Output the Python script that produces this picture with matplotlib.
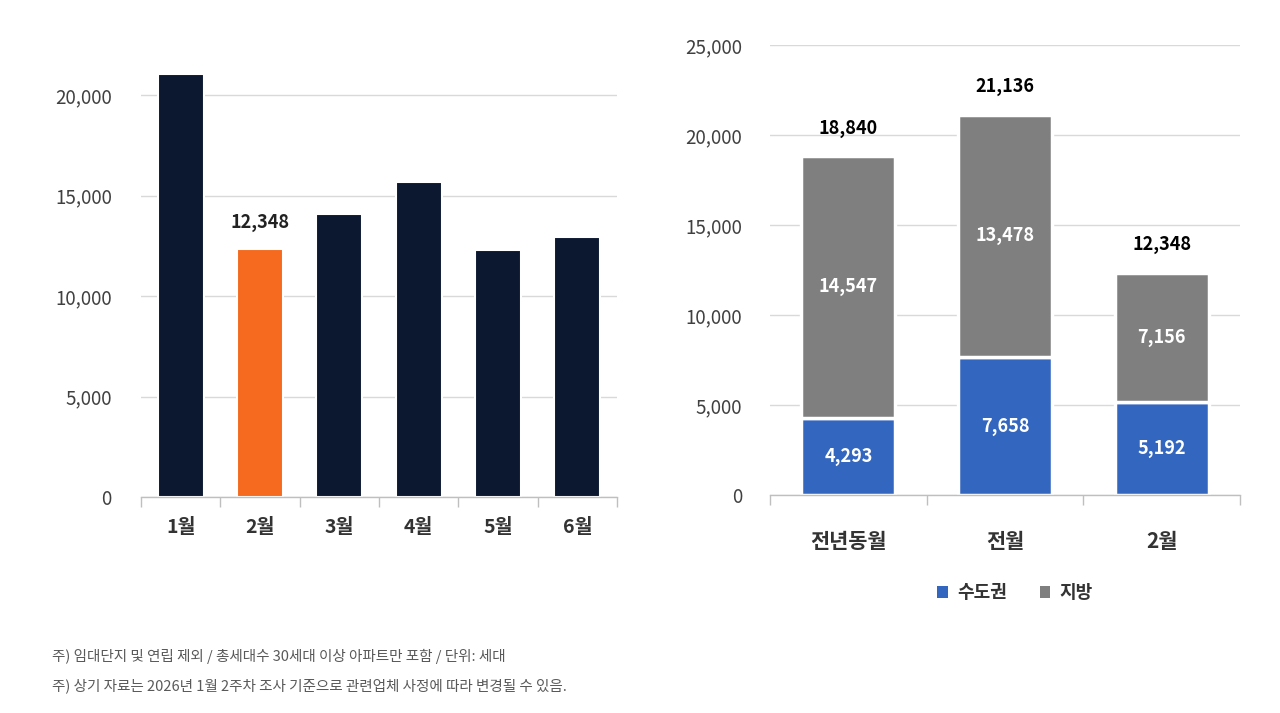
import matplotlib
matplotlib.use("Agg")
import matplotlib.pyplot as plt
from matplotlib.ticker import FuncFormatter, FixedLocator
from matplotlib.patches import Patch

plt.rcParams['font.family'] = ['Noto Sans CJK KR', 'DejaVu Sans']

# ---- data ----
months = ['1월', '2월', '3월', '4월', '5월', '6월']
month_values = [21050, 12348, 14100, 15680, 12300, 12950]
highlight_index = 1

periods = ['전년동월', '전월', '2월']
capital = [4293, 7658, 5192]
regional = [14547, 13478, 7156]
series_names = ['수도권', '지방']

footnotes = [
    '주) 임대단지 및 연립 제외 / 총세대수 30세대 이상 아파트만 포함 / 단위: 세대',
    '주) 상기 자료는 2026년 1월 2주차 조사 기준으로 관련업체 사정에 따라 변경될 수 있음.',
]

NAVY = '#0b1830'
ORANGE = '#f56a1e'
BLUE = '#3366bf'
GRAY = '#7f7f7f'
GRID = '#d9d9d9'
TICKC = '#404040'

W, H = 1280, 713
fig = plt.figure(figsize=(W / 100, H / 100), dpi=100)
fig.patch.set_facecolor('white')

def px_axes(x0, x1, ybot, ytop):
    return fig.add_axes([x0 / W, (H - ybot) / H, (x1 - x0) / W, (ybot - ytop) / H])

fmt = FuncFormatter(lambda v, p: f'{int(v):,}')

def style(ax, n, ypad):
    for s in ['top', 'right', 'left']:
        ax.spines[s].set_visible(False)
    ax.spines['bottom'].set_color('#bfbfbf')
    ax.spines['bottom'].set_linewidth(1.0)
    ax.set_axisbelow(True)
    ax.yaxis.grid(True, color=GRID, linewidth=1.0)
    ax.yaxis.set_major_formatter(fmt)
    ax.tick_params(axis='y', length=0, pad=ypad, labelsize=13.5, labelcolor=TICKC)
    ax.set_xlim(-0.5, n - 0.5)
    ax.xaxis.set_minor_locator(FixedLocator([i - 0.5 for i in range(n + 1)]))
    ax.tick_params(axis='x', which='major', length=0)
    ax.tick_params(axis='x', which='minor', length=7, color='#bfbfbf', width=1)

# ---- left chart ----
ax1 = px_axes(141, 617, 497, 73)
colors = [ORANGE if i == highlight_index else NAVY for i in range(len(months))]
ax1.bar(range(len(months)), month_values, width=0.58, color=colors,
        edgecolor='white', linewidth=1.5, clip_on=False)
ax1.set_ylim(0, 21100)
ax1.set_yticks([0, 5000, 10000, 15000, 20000])
style(ax1, len(months), 21)
ax1.set_xticks(range(len(months)))
ax1.set_xticklabels(months, fontsize=14, fontweight='bold', color='#333333')
ax1.tick_params(axis='x', which='major', pad=15)
ax1.annotate(f'{month_values[highlight_index]:,}', (highlight_index, month_values[highlight_index]),
             xytext=(0, 19), textcoords='offset points', ha='center', va='center',
             fontsize=13, fontweight='bold', color='#222222')

# ---- right chart ----
ax2 = px_axes(770, 1240, 495, 45)
x = range(len(periods))
ax2.bar(x, capital, width=0.6, color=BLUE, edgecolor='white', linewidth=2.5)
ax2.bar(x, regional, width=0.6, bottom=capital, color=GRAY, edgecolor='white', linewidth=2.5)
ax2.set_ylim(0, 25000)
ax2.set_yticks([0, 5000, 10000, 15000, 20000, 25000])
style(ax2, len(periods), 20)
ax2.set_xticks(list(x))
ax2.set_xticklabels(periods, fontsize=15, fontweight='bold', color='#333333')
ax2.tick_params(axis='x', which='major', pad=26)
for i in x:
    ax2.text(i, capital[i] / 2, f'{capital[i]:,}', ha='center', va='center',
             fontsize=13, fontweight='bold', color='white')
    ax2.text(i, capital[i] + regional[i] / 2, f'{regional[i]:,}', ha='center', va='center',
             fontsize=13, fontweight='bold', color='white')
    total = capital[i] + regional[i]
    ax2.annotate(f'{total:,}', (i, total), xytext=(0, 20), textcoords='offset points',
                 ha='center', va='center', fontsize=13, fontweight='bold', color='black')

handles = [Patch(facecolor=BLUE, label=series_names[0]),
           Patch(facecolor=GRAY, label=series_names[1])]
leg = fig.legend(handles=handles, loc='center', bbox_to_anchor=(1015 / W, 1 - 593 / H),
                 ncol=2, frameon=False, fontsize=13, handlelength=0.6, handleheight=0.6,
                 columnspacing=1.8, handletextpad=0.5)
for t in leg.get_texts():
    t.set_fontweight('bold')
    t.set_color('#333333')

# ---- footnotes ----
fig.text(52 / W, 1 - 656 / H, footnotes[0], fontsize=10.5, color='#595959', va='center')
fig.text(52 / W, 1 - 686 / H, footnotes[1], fontsize=10.5, color='#595959', va='center')

fig.savefig('out.png', dpi=100, facecolor='white')
